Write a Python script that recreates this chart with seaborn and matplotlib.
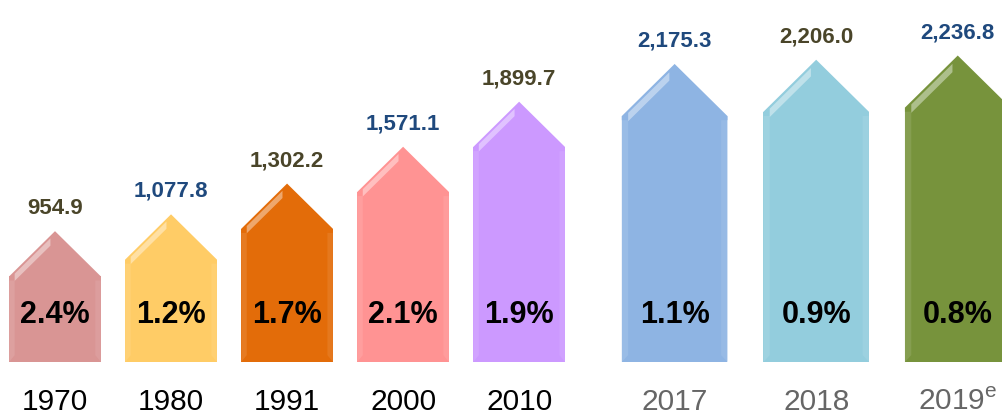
import numpy as np
import pandas as pd
import matplotlib
matplotlib.use("Agg")
import matplotlib.pyplot as plt
import matplotlib.colors as mcolors
from matplotlib.patches import Polygon
import seaborn as sns

# data
years = ["1970", "1980", "1991", "2000", "2010", "2017", "2018", "2019"]
year_labels = ["1970", "1980", "1991", "2000", "2010", "2017", "2018",
               "2019$^{\\mathregular{e}}$"]
values = [954.9, 1077.8, 1302.2, 1571.1, 1899.7, 2175.3, 2206.0, 2236.8]
growth = ["2.4%", "1.2%", "1.7%", "2.1%", "1.9%", "1.1%", "0.9%", "0.8%"]

bar_colors = ["#D99594", "#FFCC66", "#E36C09", "#FF9393",
              "#CC99FF", "#8EB4E3", "#93CDDD", "#77933C"]
label_colors = ["#4A4529", "#1F497D"] * 4
year_colors = ["black"] * 5 + ["#666666"] * 3

sns.set_theme(style="white")
plt.rcParams["font.family"] = ["Liberation Sans", "DejaVu Sans"]

# first five bars evenly spaced, last three wider apart
xpos = np.r_[np.arange(5), 5.34 + 1.22 * np.arange(3)]
df = pd.DataFrame({"x": xpos, "value": values, "year": years})

fig = plt.figure(figsize=(10.03, 4.19), dpi=100)
ax = fig.add_axes([0, 57 / 419, 1, 362 / 419])

sns.barplot(data=df, x="x", y="value", hue="year",
            palette=dict(zip(years, bar_colors)), native_scale=True,
            dodge=False, legend=False, width=0.79, saturation=1, ax=ax)


def lighten(c, f):
    r = np.array(mcolors.to_rgb(c))
    return tuple(r + (1 - r) * f)


cap0 = 330
patches = sorted(ax.patches, key=lambda p: p.get_x())
for i, p in enumerate(patches):
    col = bar_colors[i]
    cx = p.get_x() + p.get_width() / 2
    w = 0.91 if i >= 5 else p.get_width()
    h = p.get_height()
    c = cap0 * w / 0.79
    left, right, sh = cx - w / 2, cx + w / 2, h - c
    p.set_x(left)
    p.set_width(w)
    p.set_height(sh)
    p.set_linewidth(0)
    # side bevels
    s = 0.06 * w
    ax.add_patch(Polygon([(left, 0), (left + s, 50), (left + s, sh - 25), (left, sh)],
                         color=lighten(col, 0.10), lw=0))
    ax.add_patch(Polygon([(right, 0), (right - s, 50), (right - s, sh - 25), (right, sh)],
                         color=lighten(col, 0.08), lw=0))
    # arrow head, overlapping the body so no seam shows
    ax.add_patch(Polygon([(left, sh - 30), (left, sh), (cx, h), (right, sh),
                          (right, sh - 30)], closed=True, color=col, lw=0))
    # glossy band along the left slope
    t0, t1 = 0.12, 0.9
    pts = [(left + t * (cx - left), sh + t * c - d * c)
           for t, d in [(t0, 0.06), (t1, 0.06), (t1, 0.22), (t0, 0.22)]]
    ax.add_patch(Polygon(pts, color=lighten(col, 0.45), lw=0, alpha=0.9))

    ax.annotate(f"{values[i]:,.1f}", (cx, values[i]), xytext=(0, 9),
                textcoords="offset points", ha="center", va="bottom",
                fontsize=16, fontweight="bold", color=label_colors[i])
    ax.text(cx, 343, growth[i], ha="center", va="center",
            fontsize=22, fontweight="bold", color="black")

ax.set_xlim(-0.474, 8.17)
ax.set_ylim(0, 2642)
ax.set_xticks(xpos)
ax.set_xticklabels(year_labels, fontsize=21.5)
for lab, col in zip(ax.get_xticklabels(), year_colors):
    lab.set_color(col)
ax.tick_params(axis="x", length=0, pad=19)
ax.set_yticks([])
ax.set_xlabel("")
ax.set_ylabel("")
sns.despine(ax=ax, left=True, bottom=True)

fig.savefig("out.png", dpi=100)
